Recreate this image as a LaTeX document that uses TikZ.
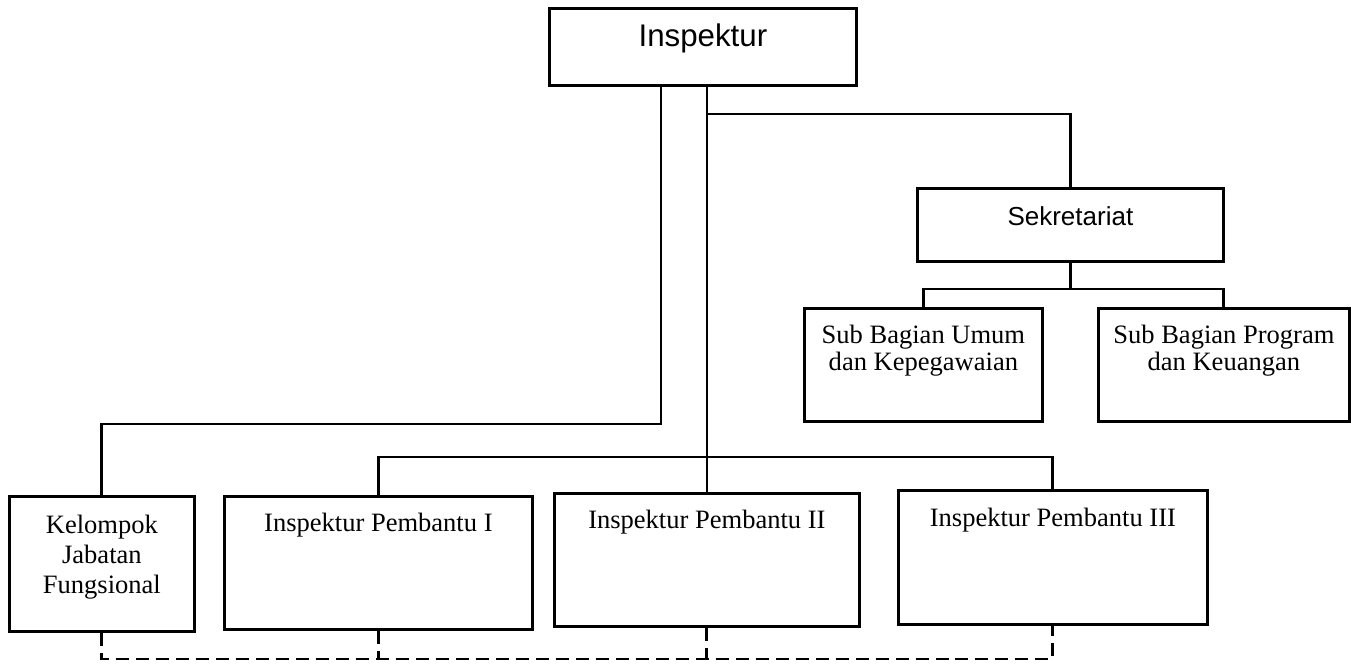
\documentclass[tikz,border=0pt]{standalone}
\usepackage{fontspec}
\setmainfont{Liberation Serif}
\newfontfamily\arialfont{Liberation Sans}
\newcommand{\boxtext}[1]{\begin{tabular}[t]{@{}c@{}}#1\end{tabular}}

\begin{document}
\begin{tikzpicture}[x=0.02cm, y=-0.02cm, line width=1.6pt,
  box/.style={draw, rectangle, inner sep=0pt, anchor=north west},
  head/.style={box, font=\arialfont\fontsize{17.8}{19}\selectfont},
  sec/.style={box, font=\arialfont\fontsize{14.8}{17}\selectfont},
  unit/.style={box, font=\fontsize{15.1}{17.1}\selectfont, text height=0.7cm, text depth=1.96cm},
  sub/.style={box, font=\fontsize{15.1}{15.4}\selectfont, text height=0.7cm, text depth=1.56cm},
  dsh/.style={dash pattern=on 0.26cm off 0.14cm}]

  \useasboundingbox (0,0) rectangle (1351,664);

  % top: Inspektur and secretariat
  \node[head, minimum width=6.14cm, text height=0.76cm, text depth=0.78cm]
    (insp) at (548,7) {Inspektur};
  \node[sec, minimum width=6.12cm, text height=0.74cm, text depth=0.72cm]
    (sekr) at (916,187) {Sekretariat};
  \node[sub, minimum width=4.76cm] (sbu) at (803,307)
    {\boxtext{Sub Bagian Umum\\dan Kepegawaian}};
  \node[sub, minimum width=5.02cm] (sbp) at (1097,307)
    {\boxtext{Sub Bagian Program\\dan Keuangan}};

  % bottom row
  \node[unit, minimum width=3.70cm, text height=0.74cm] (kjf) at (8,495)
    {\boxtext{Kelompok\\Jabatan\\Fungsional}};
  \node[unit, minimum width=6.16cm] (ip1) at (223,495) {Inspektur Pembantu I};
  \node[unit, minimum width=6.10cm] (ip2) at (553,492) {Inspektur Pembantu II};
  \node[unit, minimum width=6.18cm, text height=0.72cm] (ip3) at (897,489)
    {Inspektur Pembantu III};

  % knee points of the lines
  \coordinate (kneeL) at (661,424);
  \coordinate (kneeS) at (707,114);
  \coordinate (trunk) at (707,457);
  \coordinate (barS) at (0,289);
  \coordinate (barI) at (0,457);
  \coordinate (barD) at (0,659);

  % Inspektur -> functional group
  \draw (insp.south -| kneeL) -- (kneeL) -- (kneeL -| kjf.north) -- (kjf.north);

  % Inspektur -> assistant inspectors
  \draw (insp.south -| trunk) -- (ip2.north -| trunk);
  \draw (ip1.north) -- (ip1.north |- barI) -- (ip3.north |- barI) -- (ip3.north);

  % Inspektur -> Sekretariat -> sub sections
  \draw (kneeS) -- (kneeS -| sekr.north) -- (sekr.north);
  \draw (sekr.south) -- (sekr.south |- barS);
  \draw (sbu.north) -- (sbu.north |- barS) -- (sbp.north |- barS) -- (sbp.north);

  % coordination line
  \draw[dsh] (kjf.south) -- (kjf.south |- barD) -- (ip3.south |- barD) -- (ip3.south);
  \draw[dsh] (ip1.south) -- (ip1.south |- barD);
  \draw[dsh] (ip2.south) -- (ip2.south |- barD);

\end{tikzpicture}
\end{document}
